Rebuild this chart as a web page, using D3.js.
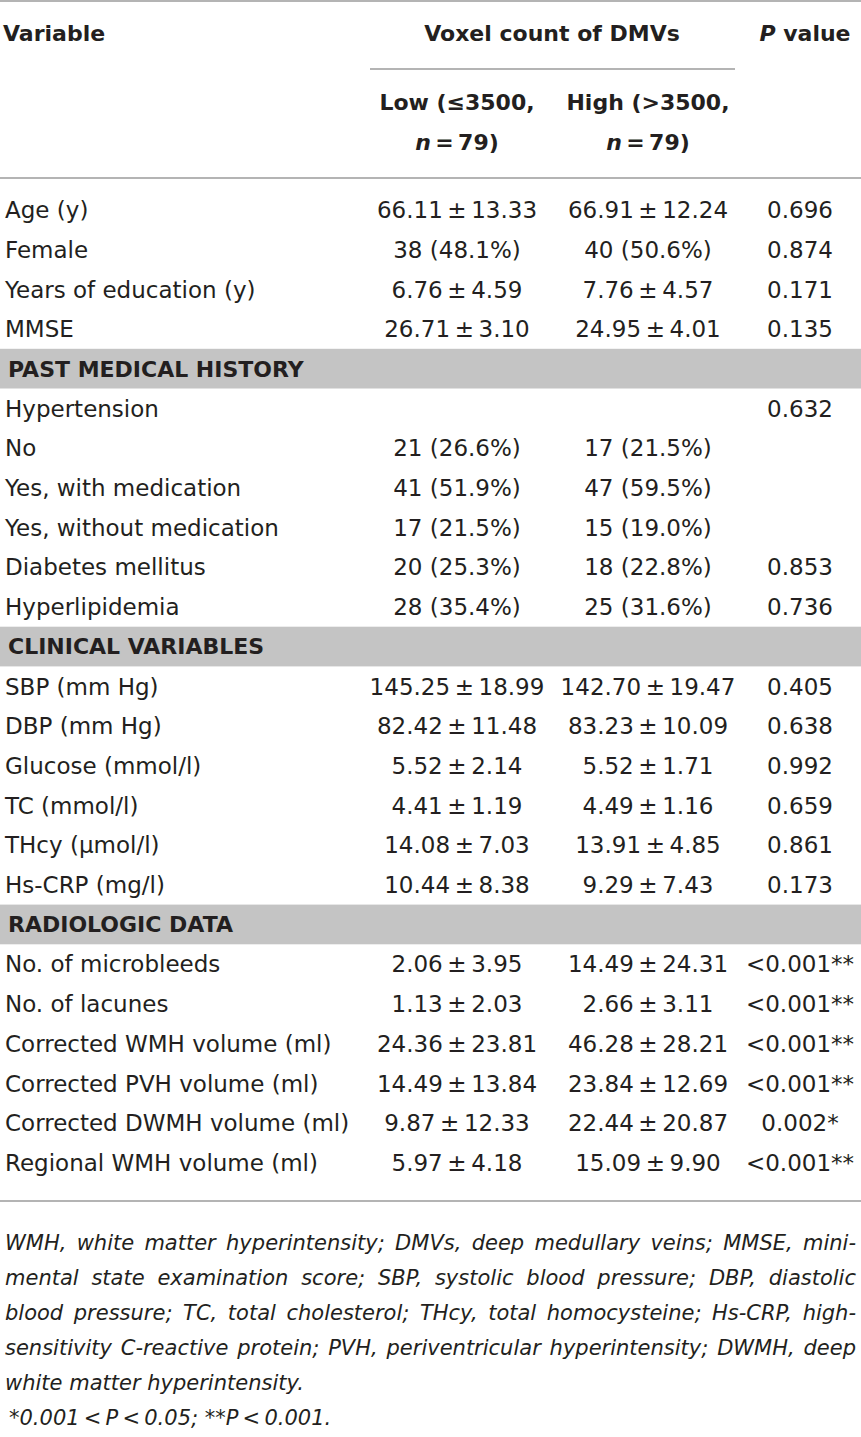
<!DOCTYPE html>
<html>
<head>
<meta charset="utf-8">
<script src="https://cdnjs.cloudflare.com/ajax/libs/d3/7.8.5/d3.min.js"></script>
<style>
  body { margin: 0; background: #fff; }
  svg { display: block; }
  text { font-family: "DejaVu Sans", sans-serif; fill: #231f20; }
</style>
</head>
<body>
<div id="table"></div>
<script>
// table content
var variables = [
  "Age (y)", "Female", "Years of education (y)", "MMSE",
  "PAST MEDICAL HISTORY",
  "Hypertension", "No", "Yes, with medication", "Yes, without medication",
  "Diabetes mellitus", "Hyperlipidemia",
  "CLINICAL VARIABLES",
  "SBP (mm Hg)", "DBP (mm Hg)", "Glucose (mmol/l)", "TC (mmol/l)",
  "THcy (\u03bcmol/l)", "Hs-CRP (mg/l)",
  "RADIOLOGIC DATA",
  "No. of microbleeds", "No. of lacunes", "Corrected WMH volume (ml)",
  "Corrected PVH volume (ml)", "Corrected DWMH volume (ml)", "Regional WMH volume (ml)"
];
var sectionRows = ["PAST MEDICAL HISTORY", "CLINICAL VARIABLES", "RADIOLOGIC DATA"];

var lowGroup = [
  "66.11\u2009\u00b1\u200913.33", "38 (48.1%)", "6.76\u2009\u00b1\u20094.59", "26.71\u2009\u00b1\u20093.10",
  "",
  "", "21 (26.6%)", "41 (51.9%)", "17 (21.5%)", "20 (25.3%)", "28 (35.4%)",
  "",
  "145.25\u2009\u00b1\u200918.99", "82.42\u2009\u00b1\u200911.48", "5.52\u2009\u00b1\u20092.14",
  "4.41\u2009\u00b1\u20091.19", "14.08\u2009\u00b1\u20097.03", "10.44\u2009\u00b1\u20098.38",
  "",
  "2.06\u2009\u00b1\u20093.95", "1.13\u2009\u00b1\u20092.03", "24.36\u2009\u00b1\u200923.81",
  "14.49\u2009\u00b1\u200913.84", "9.87\u2009\u00b1\u200912.33", "5.97\u2009\u00b1\u20094.18"
];
var highGroup = [
  "66.91\u2009\u00b1\u200912.24", "40 (50.6%)", "7.76\u2009\u00b1\u20094.57", "24.95\u2009\u00b1\u20094.01",
  "",
  "", "17 (21.5%)", "47 (59.5%)", "15 (19.0%)", "18 (22.8%)", "25 (31.6%)",
  "",
  "142.70\u2009\u00b1\u200919.47", "83.23\u2009\u00b1\u200910.09", "5.52\u2009\u00b1\u20091.71",
  "4.49\u2009\u00b1\u20091.16", "13.91\u2009\u00b1\u20094.85", "9.29\u2009\u00b1\u20097.43",
  "",
  "14.49\u2009\u00b1\u200924.31", "2.66\u2009\u00b1\u20093.11", "46.28\u2009\u00b1\u200928.21",
  "23.84\u2009\u00b1\u200912.69", "22.44\u2009\u00b1\u200920.87", "15.09\u2009\u00b1\u20099.90"
];
var pValues = [
  "0.696", "0.874", "0.171", "0.135",
  "",
  "0.632", "", "", "", "0.853", "0.736",
  "",
  "0.405", "0.638", "0.992", "0.659", "0.861", "0.173",
  "",
  "<0.001**", "<0.001**", "<0.001**", "<0.001**", "0.002*", "<0.001**"
];
var columns = ["low", "high", "p"];

var notes = [
  "WMH, white matter hyperintensity; DMVs, deep medullary veins; MMSE, mini-",
  "mental state examination score; SBP, systolic blood pressure; DBP, diastolic",
  "blood pressure; TC, total cholesterol; THcy, total homocysteine; Hs-CRP, high-",
  "sensitivity C-reactive protein; PVH, periventricular hyperintensity; DWMH, deep",
  "white matter hyperintensity."
];

var width = 861, height = 1437;
var ink = "#231f20", rule = "#b4b4b4", band = "#c4c4c4";

var svg = d3.select("#table")
  .append("svg")
  .attr("width", width)
  .attr("height", height);

var y = d3.scaleBand()
  .domain(d3.range(variables.length))
  .range([190, 190 + 39.7 * variables.length]);

var x = d3.scaleOrdinal()
  .domain(columns)
  .range([457, 648, 800]);

// rules
svg.append("line").attr("x1", 0).attr("x2", width).attr("y1", 1).attr("y2", 1)
  .attr("stroke", rule).attr("stroke-width", 2);
svg.append("line").attr("x1", 370).attr("x2", 735).attr("y1", 69).attr("y2", 69)
  .attr("stroke", rule).attr("stroke-width", 2);
svg.append("line").attr("x1", 0).attr("x2", width).attr("y1", 178).attr("y2", 178)
  .attr("stroke", rule).attr("stroke-width", 2);
svg.append("line").attr("x1", 0).attr("x2", width).attr("y1", 1201).attr("y2", 1201)
  .attr("stroke", rule).attr("stroke-width", 2);

// header
var head = svg.append("g")
  .attr("font-weight", "bold")
  .attr("font-size", 22);

head.append("text").attr("x", 3).attr("y", 33).attr("dy", "0.36em").text("Variable");
head.append("text").attr("x", 552).attr("y", 33).attr("dy", "0.36em")
  .attr("text-anchor", "middle").text("Voxel count of DMVs");

var pv = head.append("text").attr("x", 805).attr("y", 33).attr("dy", "0.36em")
  .attr("text-anchor", "middle");
pv.append("tspan").attr("font-style", "italic").text("P");
pv.append("tspan").text(" value");

head.append("text").attr("x", x("low")).attr("y", 102).attr("dy", "0.36em")
  .attr("text-anchor", "middle").text("Low (\u22643500,");
head.append("text").attr("x", x("high")).attr("y", 102).attr("dy", "0.36em")
  .attr("text-anchor", "middle").text("High (>3500,");

["low", "high"].forEach(function(c) {
  var t = head.append("text").attr("x", x(c)).attr("y", 142).attr("dy", "0.36em")
    .attr("text-anchor", "middle");
  t.append("tspan").attr("font-style", "italic").text("n");
  t.append("tspan").text("\u2009=\u200979)");
});

// rows
var rows = svg.selectAll(".row")
  .data(variables)
  .enter().append("g")
  .attr("class", "row")
  .attr("transform", function(d, i) { return "translate(0," + y(i) + ")"; });

rows.filter(function(d) { return sectionRows.indexOf(d) >= 0; })
  .append("rect")
  .attr("x", 0)
  .attr("width", width)
  .attr("height", y.bandwidth())
  .attr("fill", band);

rows.append("text")
  .attr("x", function(d) { return sectionRows.indexOf(d) >= 0 ? 8 : 5; })
  .attr("y", y.bandwidth() / 2)
  .attr("dy", "0.36em")
  .attr("font-size", function(d) { return sectionRows.indexOf(d) >= 0 ? 22 : 23; })
  .attr("font-weight", function(d) { return sectionRows.indexOf(d) >= 0 ? "bold" : "normal"; })
  .text(function(d) { return d; });

var cells = [lowGroup, highGroup, pValues];
columns.forEach(function(c, ci) {
  rows.append("text")
    .attr("x", x(c))
    .attr("y", y.bandwidth() / 2)
    .attr("dy", "0.36em")
    .attr("text-anchor", "middle")
    .attr("font-size", 23)
    .text(function(d, i) { return cells[ci][i]; });
});

// footnotes, justified like the journal layout
var noteY = d3.scaleLinear().domain([0, 5]).range([1242, 1417]);
var left = 5, right = 856;

notes.forEach(function(line, li) {
  var words = line.split(" ");
  var g = svg.append("g")
    .attr("font-size", 21)
    .attr("font-style", "italic");
  var nodes = words.map(function(w) {
    return g.append("text").attr("y", noteY(li)).attr("dy", "0.36em").text(w);
  });
  var lens = nodes.map(function(n) { return n.node().getComputedTextLength(); });
  var gap = 6.7;
  if (li < notes.length - 1 && words.length > 1) {
    gap = (right - left - d3.sum(lens)) / (words.length - 1);
  }
  var pos = left;
  nodes.forEach(function(n, k) {
    n.attr("x", pos);
    pos += lens[k] + gap;
  });
});

var sig = svg.append("text")
  .attr("x", 9).attr("y", noteY(5)).attr("dy", "0.36em")
  .attr("font-size", 21).attr("font-style", "italic");
sig.text("*0.001\u2009<\u2009P\u2009<\u20090.05; **P\u2009<\u20090.001.");
</script>
</body>
</html>
